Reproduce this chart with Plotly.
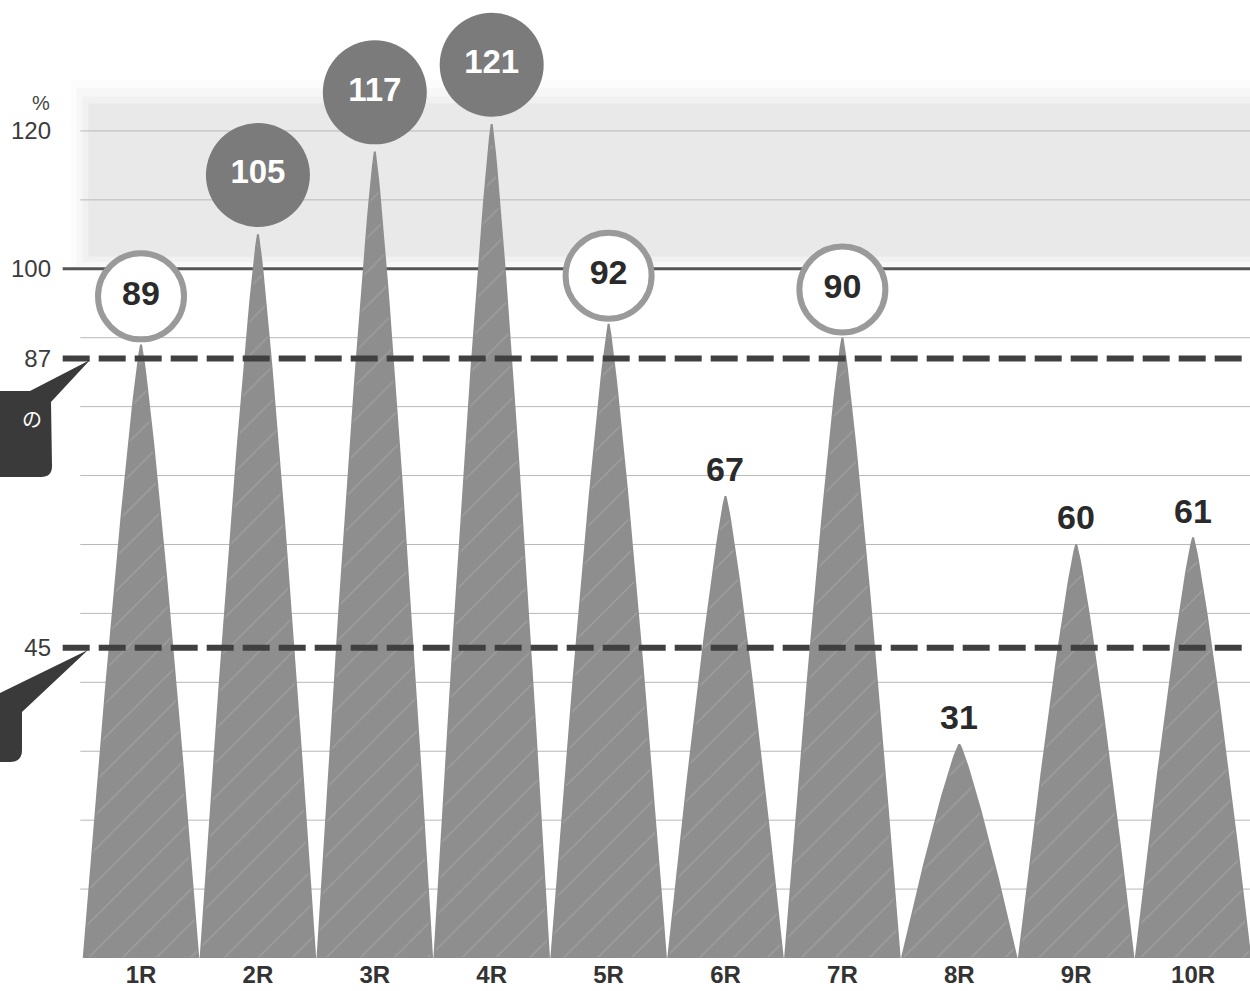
import numpy as np
import plotly.graph_objects as go

# ---- data ----
categories = ["1R", "2R", "3R", "4R", "5R", "6R", "7R", "8R", "9R", "10R"]
values = [89, 105, 117, 121, 92, 67, 90, 31, 60, 61]
ref_lines = [87, 45]
ytick_vals = [45, 87, 100, 120]
ytick_text = ["45", "87", "100", "120"]
grid_vals = [10, 20, 30, 40, 50, 60, 70, 80, 90, 110, 120]

# ---- geometry / styles ----
W, H = 1250, 991
ML, MR, MT, MB = 62, 0, 0, 33
PW, PH = W - ML - MR, H - MT - MB
XMIN, XMAX = -0.676, 9.487
YMIN, YMAX = 0, 139

def pxx(px):
    return (px - ML) / PW

def pxy(py):
    return (H - MB - py) / PH

TRI = "#8e8e8e"
DARK = "#404040"
FONT = "Liberation Sans, Arial, Helvetica, sans-serif"

fig = go.Figure()

# soft light-gray band above 100 (layered for blurred edges)
band = [(101.8, 124.0, -0.45, 0.50), (101.0, 125.0, -0.50, 0.28), (100.4, 126.2, -0.55, 0.17), (100.0, 127.5, -0.60, 0.10)]
for y0, y1, x0, op in band:
    fig.add_shape(type="rect", xref="x", yref="y", x0=x0, x1=XMAX + 0.1,
                  y0=y0, y1=y1, fillcolor="#e2e2e2", opacity=op, line_width=0, layer="below")

# thin gridlines
for g in grid_vals:
    fig.add_shape(type="line", xref="x", yref="y", x0=-0.52, x1=XMAX + 0.1, y0=g, y1=g,
                  line=dict(color="#b8b8b8", width=1), layer="below")

# 100 line
fig.add_shape(type="line", xref="x", yref="y", x0=-0.67, x1=XMAX + 0.1, y0=100, y1=100,
              line=dict(color="#555555", width=3), layer="below")

# spiky triangles
t = np.linspace(0, 1, 60)
for i, (c, v) in enumerate(zip(categories, values)):
    yy = v * t
    half = 0.49 * (1 - t) ** 0.85
    xs = np.concatenate([i - half, (i + half)[::-1], [i - half[0]]])
    ys = np.concatenate([yy, yy[::-1], [yy[0]]])
    fig.add_trace(go.Scatter(
        x=xs, y=ys, mode="lines", fill="toself", fillcolor=TRI,
        line=dict(color=TRI, width=2),
        fillpattern=dict(shape="/", fgcolor="white", fgopacity=0.18, bgcolor=TRI, size=24, solidity=0.05),
        hoverinfo="skip", showlegend=False))

# dashed reference lines
for r in ref_lines:
    fig.add_shape(type="line", xref="x", yref="y", x0=-0.67, x1=XMAX + 0.1, y0=r, y1=r,
                  line=dict(color=DARK, width=6, dash="27px,9px"), layer="above")

# value labels
for i, v in enumerate(values):
    if v > 100:
        fig.add_trace(go.Scatter(
            x=[i], y=[v + 8.6], mode="markers+text", text=[str(v)],
            marker=dict(size=104, color="#7b7b7b", line=dict(width=0)),
            textfont=dict(family=FONT, size=33, color="white", weight="bold"),
            textposition="middle center", hoverinfo="skip", showlegend=False, cliponaxis=False))
    elif v >= ref_lines[0]:
        fig.add_trace(go.Scatter(
            x=[i], y=[v + 7.0], mode="markers+text", text=[str(v)],
            marker=dict(size=86, color="white", line=dict(width=6, color="#9a9a9a")),
            textfont=dict(family=FONT, size=34, color="#2a2a2a", weight="bold"),
            textposition="middle center", hoverinfo="skip", showlegend=False, cliponaxis=False))
    else:
        fig.add_annotation(x=i, y=v, xref="x", yref="y", text=str(v), showarrow=False,
                           yanchor="bottom", yshift=6,
                           font=dict(family=FONT, size=34, color="#2a2a2a", weight="bold"))

# "%" unit label
fig.add_annotation(x=pxx(52), y=pxy(103), xref="paper", yref="paper", text="%", showarrow=False,
                   xanchor="right", yanchor="middle", font=dict(family=FONT, size=20, color="#444444"))

# callouts (cut at the left edge)
def P(px, py):
    return f"{pxx(px):.5f},{pxy(py):.5f}"

path1 = ("M " + P(0, 391) + " L " + P(30, 391) + " L " + P(90, 360) + " L " + P(51, 402) +
         " L " + P(52, 466) + " Q " + P(52, 477) + " " + P(41, 477) + " L " + P(0, 477) + " Z")
fig.add_shape(type="path", xref="paper", yref="paper", path=path1, fillcolor="#3a3a3a", line_width=0)
fig.add_annotation(x=pxx(20), y=pxy(419), xref="paper", yref="paper", text="の", showarrow=False,
                   font=dict(family="Noto Sans CJK JP", size=20, color="white"))

path2 = ("M " + P(0, 693) + " L " + P(88, 650) + " L " + P(22, 712) +
         " L " + P(22, 750) + " Q " + P(22, 762) + " " + P(10, 762) + " L " + P(0, 762) + " Z")
fig.add_shape(type="path", xref="paper", yref="paper", path=path2, fillcolor="#3a3a3a", line_width=0)

fig.update_layout(
    width=W, height=H, margin=dict(l=ML, r=MR, t=MT, b=MB),
    paper_bgcolor="white", plot_bgcolor="white", showlegend=False,
    xaxis=dict(range=[XMIN, XMAX], tickvals=list(range(len(categories))), ticktext=categories,
               showgrid=False, zeroline=False, showline=False, ticks="",
               tickfont=dict(family=FONT, size=24, color="#333333", weight="bold")),
    yaxis=dict(range=[YMIN, YMAX], tickvals=ytick_vals, ticktext=ytick_text,
               showgrid=False, zeroline=False, showline=False, ticks="", ticklabelstandoff=10,
               tickfont=dict(family=FONT, size=24, color="#3c3c3c")),
)

fig.write_html("out.html", config={"displayModeBar": False},
               post_script="document.body.style.margin='0';document.body.style.overflow='hidden';")
